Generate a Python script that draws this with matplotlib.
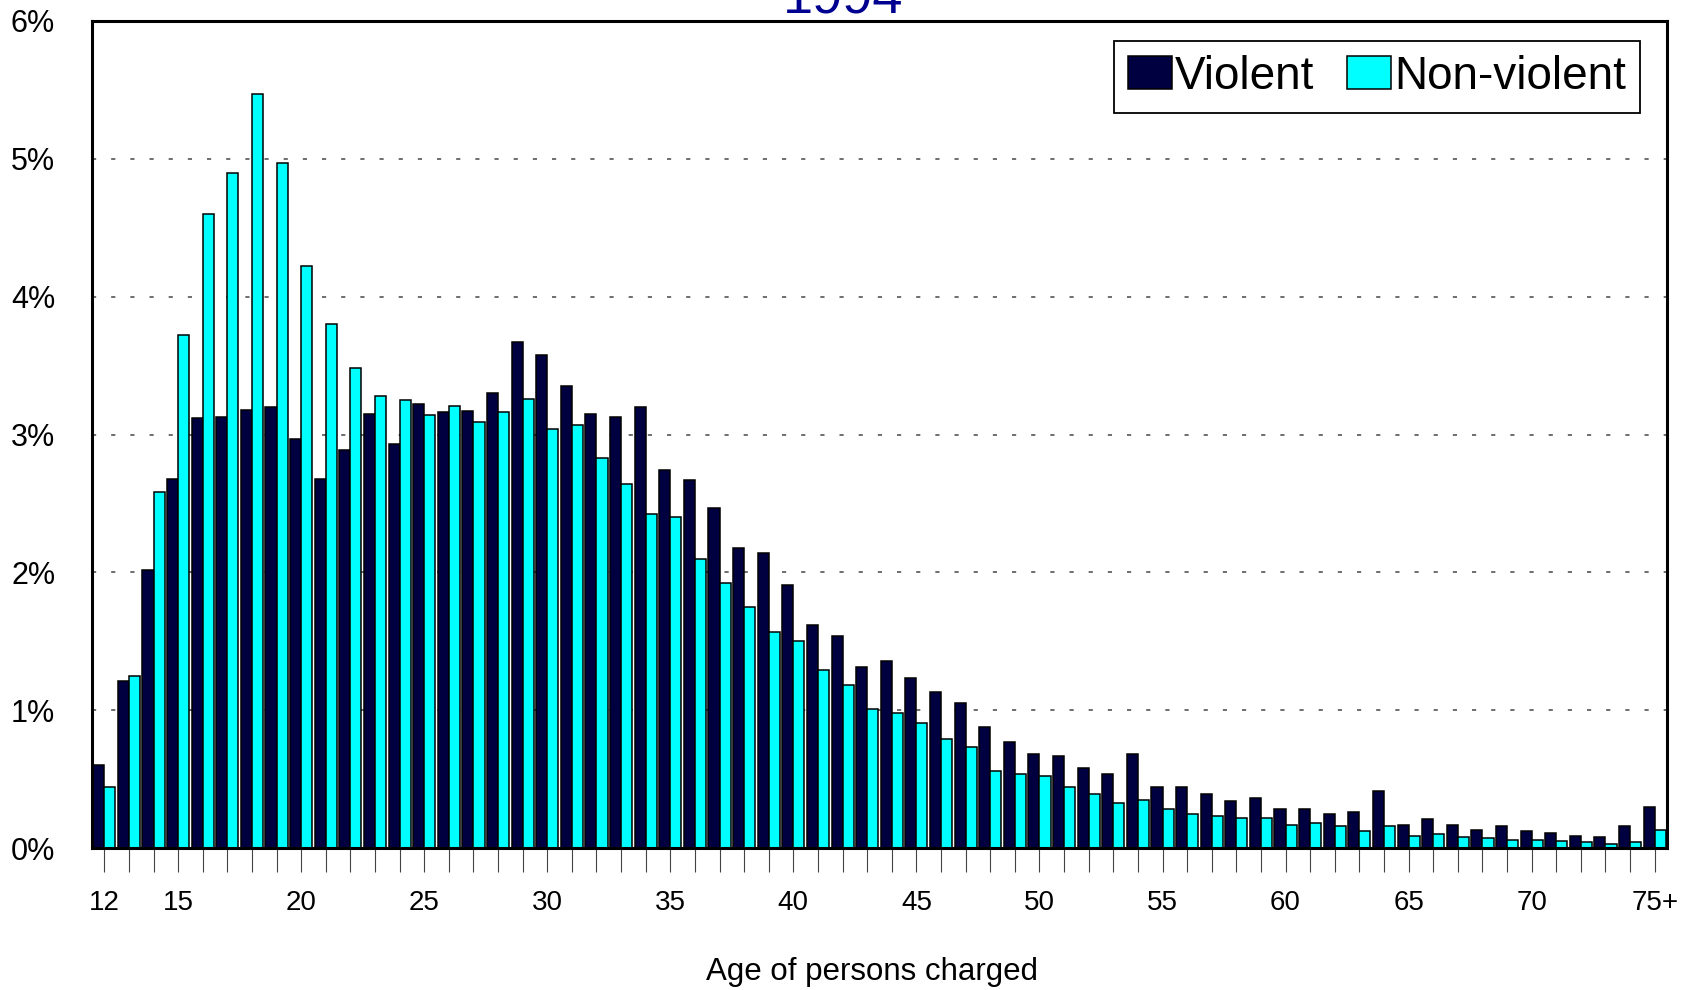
import matplotlib
matplotlib.use("Agg")
import matplotlib.pyplot as plt
import numpy as np

# ---- data ----
ages = [str(a) for a in range(12, 75)] + ["75+"]
violent = [0.60, 1.21, 2.02, 2.68, 3.12, 3.13, 3.18, 3.20, 2.97, 2.68,
           2.89, 3.15, 2.93, 3.22, 3.16, 3.17, 3.30, 3.67, 3.58, 3.35,
           3.15, 3.13, 3.20, 2.74, 2.67, 2.47, 2.18, 2.14, 1.91, 1.62,
           1.54, 1.31, 1.36, 1.23, 1.13, 1.05, 0.88, 0.77, 0.68, 0.67,
           0.58, 0.54, 0.68, 0.44, 0.44, 0.39, 0.34, 0.36, 0.28, 0.28,
           0.25, 0.26, 0.41, 0.17, 0.21, 0.17, 0.13, 0.16, 0.12, 0.11,
           0.09, 0.08, 0.16, 0.30]
nonviolent = [0.44, 1.25, 2.58, 3.72, 4.60, 4.90, 5.47, 4.97, 4.22, 3.80,
              3.48, 3.28, 3.25, 3.14, 3.21, 3.09, 3.16, 3.26, 3.04, 3.07,
              2.83, 2.64, 2.42, 2.40, 2.10, 1.92, 1.75, 1.57, 1.50, 1.29,
              1.18, 1.01, 0.98, 0.91, 0.79, 0.73, 0.56, 0.54, 0.52, 0.44,
              0.39, 0.33, 0.35, 0.28, 0.25, 0.23, 0.22, 0.22, 0.17, 0.18,
              0.16, 0.12, 0.16, 0.09, 0.10, 0.08, 0.07, 0.06, 0.06, 0.05,
              0.04, 0.03, 0.04, 0.13]
shown_labels = ["12", "15", "20", "25", "30", "35", "40", "45", "50",
                "55", "60", "65", "70", "75+"]
yticks = [0, 1, 2, 3, 4, 5, 6]
title = "1994"
xlabel = "Age of persons charged"

# ---- style ----
plt.rcParams['font.family'] = ['Liberation Sans', 'DejaVu Sans']
plt.rcParams['lines.scale_dashes'] = False

W, H = 1686, 990
fig = plt.figure(figsize=(W / 100, H / 100), dpi=100)
ax = fig.add_axes([92 / W, 1 - 848 / H, (1667 - 92) / W, (848 - 21) / H])

x = np.arange(len(ages))
bw = 0.45
ax.bar(x - bw / 2, violent, width=bw, color='#000040', edgecolor='black',
       linewidth=1.1, label='Violent', zorder=3)
ax.bar(x + bw / 2, nonviolent, width=bw, color='#00FFFF', edgecolor='black',
       linewidth=1.1, label='Non-violent', zorder=3)

ax.set_xlim(-0.5, len(ages) - 0.5)
ax.set_ylim(0, 6)

ax.set_yticks(yticks)
ax.set_yticklabels([f"{v}%" for v in yticks], fontsize=22)
ax.tick_params(axis='y', length=0, pad=26.5)

ax.set_xticks(x)
ax.set_xticklabels([a if a in shown_labels else "" for a in ages], fontsize=20)
ax.tick_params(axis='x', length=17, width=0.8, color='#444444', pad=13.5,
               direction='out')

for yv in yticks[1:-1]:
    ax.axhline(yv, color='#555555', linewidth=1.2,
               linestyle=(0, (3, 10.8)), zorder=1)

for sp in ax.spines.values():
    sp.set_linewidth(2.2)
    sp.set_color('black')
    sp.set_zorder(5)

leg = ax.legend(loc='upper right', bbox_to_anchor=(1640 / W, 1 - 41 / H),
                bbox_transform=fig.transFigure, borderaxespad=0,
                ncol=2, fontsize=33, frameon=True, fancybox=False,
                handlelength=0.96, handleheight=0.72, handletextpad=0.08,
                columnspacing=0.7, borderpad=0.3)
leg.get_frame().set_edgecolor('black')
leg.get_frame().set_linewidth(1.3)
leg.get_frame().set_alpha(1)

fig.text(843 / W, 1 - 13 / H, title, ha='center', va='baseline',
         fontsize=39, color='#000090')
fig.text(872 / W, 1 - 980 / H, xlabel, ha='center', va='baseline',
         fontsize=22.5, color='black')

fig.savefig('out.png', dpi=100)
